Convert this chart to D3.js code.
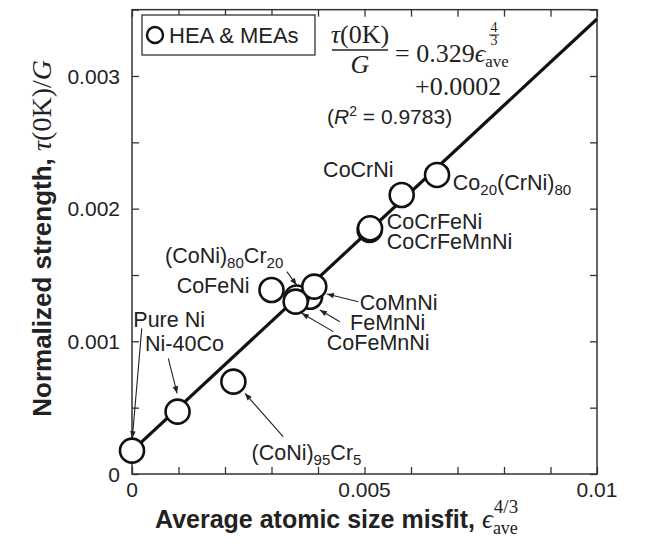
<!DOCTYPE html>
<html><head><meta charset="utf-8">
<script src="https://cdn.jsdelivr.net/npm/d3@7"></script>
<style>body{margin:0;background:#fff}</style>
</head><body>
<svg id="c" width="649" height="547"></svg>
<script>
// ---- data ----
const alloys   = ["Pure Ni","Ni-40Co","(CoNi)95Cr5","CoFeNi","FeMnNi","(CoNi)80Cr20","CoMnNi","CoFeMnNi","CoCrFeMnNi","CoCrFeNi","CoCrNi","Co20(CrNi)80"];
const misfit   = [0.0000, 0.00098, 0.00218, 0.00300, 0.00383, 0.00354, 0.00392, 0.00352, 0.00511, 0.00512, 0.00580, 0.00656];
const strength = [0.000176,0.00047,0.000696,0.001387,0.001336,0.00133,0.001412,0.001299,0.00184,0.001852,0.002103,0.002254];
const fitX = [0, 0.01];
const fitY = [0.000174, 0.00343];
const xTickLabels = ["0","0.005","0.01"];
const xTickValues = [0, 0.005, 0.01];
const yTickLabels = ["0","0.001","0.002","0.003"];
const yTickValues = [0, 0.001, 0.002, 0.003];
// annotation label text parts: [text, subscript?]
const annLabels = [
  [["Pure Ni",0]], [["Ni-40Co",0]], [["(CoNi)",0],["95",1],["Cr",0],["5",1]],
  [["CoFeNi",0]], [["(CoNi)",0],["80",1],["Cr",0],["20",1]], [["CoMnNi",0]],
  [["FeMnNi",0]], [["CoFeMnNi",0]], [["CoCrFeNi",0]], [["CoCrFeMnNi",0]],
  [["CoCrNi",0]], [["Co",0],["20",1],["(CrNi)",0],["80",1]]
];
// label anchor (data units)
const annX = [0.000028,0.00028,0.00257,0.00096,0.00071,0.00490,0.00469,0.00419,0.00548,0.00548,0.00411,0.00690];
const annY = [0.00111,0.000929,0.000105,0.001362,0.001588,0.001236,0.001085,0.000935,0.001844,0.001694,0.002236,0.002141];
// arrows (data units): from -> to, null = none
const arrFrom = [[0.00021,0.001098],[0.00078,0.000872],[0.00325,0.000281],null,[0.00333,0.001525],[0.00487,0.001299],[0.00447,0.001148],[0.00433,0.001073],null,null,null,null];
const arrTo   = [[0.0000065,0.000269],[0.00097,0.000608],[0.00243,0.000608],null,[0.00354,0.001425],[0.00419,0.001357],[0.00404,0.001236],[0.00365,0.001211],null,null,null,null];

// ---- layout ----
const L = 132, R = 597, T = 9, B = 474;
const x = d3.scaleLinear().domain([0, 0.01]).range([L, R]);
const y = d3.scaleLinear().domain([0, 0.0035]).range([B, B - 0.0035/0.003*(B-76)]);
const svg = d3.select("#c");
const ink = "#222", sans = "'Liberation Sans', Arial, Helvetica, sans-serif", serif = "'Liberation Serif','DejaVu Serif', serif";

svg.append("defs").append("marker").attr("id","ah").attr("viewBox","0 0 10 10")
  .attr("refX",10).attr("refY",5).attr("markerWidth",9).attr("markerHeight",7)
  .attr("markerUnits","userSpaceOnUse").attr("orient","auto")
  .append("path").attr("d","M0,1 L10,5 L0,9 Z").attr("fill",ink);

// axes (inward ticks, mirrored)
const xt = d3.range(0, 0.01001, 0.001), yt = d3.range(0, 0.00351, 0.0005);
svg.append("g").attr("transform",`translate(0,${B})`).call(d3.axisTop(x).tickValues(xt).tickSize(7).tickFormat(""));
svg.append("g").attr("transform",`translate(0,${y(0.0035)})`).call(d3.axisBottom(x).tickValues(xt).tickSize(7).tickFormat(""));
svg.append("g").attr("transform",`translate(${L},0)`).call(d3.axisRight(y).tickValues(yt).tickSize(7).tickFormat(""));
svg.append("g").attr("transform",`translate(${R},0)`).call(d3.axisLeft(y).tickValues(yt).tickSize(7).tickFormat(""));
svg.selectAll(".domain").remove();
svg.selectAll(".tick line").attr("stroke","#333").attr("stroke-width",1.3);
svg.append("rect").attr("x",L).attr("y",y(0.0035)).attr("width",R-L).attr("height",B-y(0.0035))
  .attr("fill","none").attr("stroke","#333").attr("stroke-width",1.5);

// tick labels
svg.selectAll(".xl").data(xTickValues).enter().append("text").attr("x",d=>x(d)).attr("y",B+23)
  .attr("text-anchor","middle").attr("font-family",sans).attr("font-size",21).attr("fill",ink)
  .text((d,i)=>xTickLabels[i]);
svg.selectAll(".yl").data(yTickValues).enter().append("text").attr("x",L-12).attr("y",d=>y(d)+7.5)
  .attr("text-anchor","end").attr("font-family",sans).attr("font-size",21).attr("fill",ink)
  .text((d,i)=>yTickLabels[i]);

// fit line
svg.append("line").attr("x1",x(fitX[0])).attr("y1",y(fitY[0])).attr("x2",x(fitX[1])).attr("y2",y(fitY[1]))
  .attr("stroke","#111").attr("stroke-width",3.2);

// arrows
alloys.forEach((a,i)=>{
  if(!arrFrom[i]) return;
  svg.append("line").attr("x1",x(arrFrom[i][0])).attr("y1",y(arrFrom[i][1]))
    .attr("x2",x(arrTo[i][0])).attr("y2",y(arrTo[i][1]))
    .attr("stroke",ink).attr("stroke-width",1.1).attr("marker-end","url(#ah)");
});

// points
svg.selectAll(".pt").data(alloys).enter().append("circle")
  .attr("cx",(d,i)=>x(misfit[i])).attr("cy",(d,i)=>y(strength[i])).attr("r",12)
  .attr("fill","#fff").attr("stroke","#111").attr("stroke-width",2.6);

// labels
function richText(sel, parts, size){
  let shift = 0;
  parts.forEach(([t,sub])=>{
    const want = sub ? 5 : 0;
    sel.append("tspan").attr("dy", want - shift).attr("font-size", sub ? size*0.7 : size).text(t);
    shift = want;
  });
}
alloys.forEach((a,i)=>{
  const t = svg.append("text").attr("x",x(annX[i])).attr("y",y(annY[i]))
    .attr("font-family",sans).attr("font-size",21.5).attr("fill",ink);
  richText(t, annLabels[i], 21.5);
});

// legend
svg.append("rect").attr("x",142).attr("y",15).attr("width",173).attr("height",40)
  .attr("fill","#fff").attr("stroke","#333").attr("stroke-width",1.3);
svg.append("circle").attr("cx",155).attr("cy",35).attr("r",8).attr("fill","#fff").attr("stroke","#111").attr("stroke-width",2.4);
svg.append("text").attr("x",169).attr("y",43).attr("font-family",sans).attr("font-size",22).attr("fill",ink).text("HEA & MEAs");

// equation
const eq = svg.append("g").attr("font-family",serif).attr("fill",ink);
const num = eq.append("text").attr("x",360).attr("y",43).attr("text-anchor","middle").attr("font-size",26);
num.append("tspan").attr("font-style","italic").text("τ"); num.append("tspan").text("(0K)");
eq.append("line").attr("x1",332).attr("x2",388).attr("y1",50).attr("y2",50).attr("stroke",ink).attr("stroke-width",1.4);
eq.append("text").attr("x",360).attr("y",73).attr("text-anchor","middle").attr("font-size",26).attr("font-style","italic").text("G");
const rhs = eq.append("text").attr("x",395).attr("y",62).attr("font-size",26);
rhs.append("tspan").text("= 0.329");
rhs.append("tspan").attr("font-style","italic").text("ϵ");
rhs.append("tspan").attr("dy",5).attr("font-size",17).text("ave");
eq.append("text").attr("x",494).attr("y",32).attr("text-anchor","middle").attr("font-size",14).text("4");
eq.append("line").attr("x1",489).attr("x2",499).attr("y1",35).attr("y2",35).attr("stroke",ink).attr("stroke-width",1);
eq.append("text").attr("x",494).attr("y",45).attr("text-anchor","middle").attr("font-size",14).text("3");
eq.append("text").attr("x",415).attr("y",95).attr("font-size",26).text("+0.0002");
const r2 = svg.append("text").attr("x",327).attr("y",124).attr("font-family",sans).attr("font-size",21).attr("fill",ink);
r2.append("tspan").text("(");
r2.append("tspan").attr("font-style","italic").text("R");
r2.append("tspan").attr("dy",-8).attr("font-size",14).text("2");
r2.append("tspan").attr("dy",8).text(" = 0.9783)");

// axis titles
const xl = svg.append("text").attr("x",155).attr("y",528).attr("fill",ink).attr("font-size",25);
xl.append("tspan").attr("font-family",sans).attr("font-weight","bold").text("Average atomic size misfit, ");
xl.append("tspan").attr("font-family",serif).attr("font-style","italic").attr("font-size",27).text("ϵ");
xl.append("tspan").attr("font-family",serif).attr("font-size",18).attr("dy",6).text("ave");
xl.append("tspan").attr("font-family",serif).attr("font-size",19).attr("dx",-24).attr("dy",-21).text("4/3");

const yl = svg.append("text").attr("transform","translate(51,60) rotate(-90)").attr("text-anchor","end")
  .attr("fill",ink).attr("font-size",26);
yl.append("tspan").attr("font-family",sans).attr("font-weight","bold").text("Normalized strength, ");
yl.append("tspan").attr("font-family",serif).attr("font-style","italic").attr("font-size",28).text("τ");
yl.append("tspan").attr("font-family",serif).attr("font-size",28).text("(0K)/");
yl.append("tspan").attr("font-family",serif).attr("font-style","italic").attr("font-size",28).text("G");
</script>
</body></html>
